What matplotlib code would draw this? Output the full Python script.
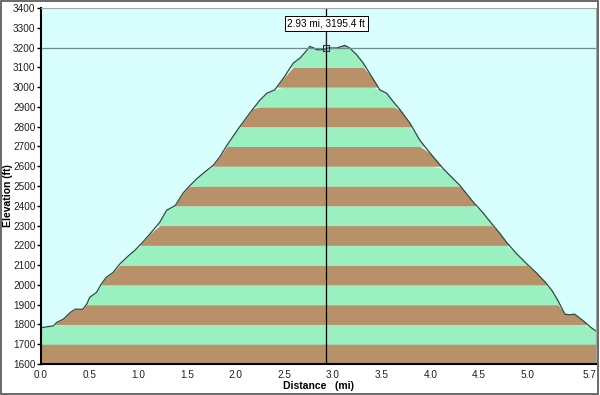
import numpy as np
import matplotlib
matplotlib.use("Agg")
import matplotlib.pyplot as plt
from matplotlib.patches import Rectangle

# Elevation profile
dist_mi = [0.0, 0.01, 0.06, 0.13, 0.16, 0.23, 0.30, 0.35, 0.43, 0.47, 0.50, 0.57,
           0.62, 0.67, 0.74, 0.81, 0.90, 0.96, 1.03, 1.12, 1.22, 1.29, 1.38, 1.46,
           1.52, 1.60, 1.68, 1.77, 1.84, 1.91, 2.04, 2.18, 2.25, 2.32, 2.40, 2.49,
           2.59, 2.66, 2.72, 2.76, 2.80, 2.83, 2.90, 2.95, 3.04, 3.12, 3.17, 3.24,
           3.31, 3.40, 3.48, 3.55, 3.62, 3.69, 3.79, 3.89, 4.00, 4.13, 4.30, 4.44,
           4.53, 4.63, 4.71, 4.78, 4.88, 4.99, 5.09, 5.18, 5.25, 5.31, 5.38, 5.43,
           5.48, 5.57, 5.65, 5.70]
elev_ft = [1795, 1784, 1788, 1793, 1810, 1827, 1860, 1877, 1877, 1903, 1937, 1962,
           2005, 2038, 2063, 2106, 2148, 2173, 2208, 2258, 2317, 2377, 2402, 2465,
           2497, 2537, 2570, 2605, 2650, 2706, 2799, 2892, 2935, 2969, 2986, 3045,
           3121, 3147, 3180, 3206, 3198, 3189, 3189, 3198, 3198, 3211, 3198, 3165,
           3121, 3050, 2986, 2969, 2925, 2884, 2817, 2732, 2664, 2588, 2504, 2418,
           2370, 2309, 2262, 2216, 2160, 2106, 2060, 2013, 1970, 1920, 1852, 1849,
           1852, 1818, 1784, 1767]

cursor_mi = 2.93
cursor_ft = 3195.4
cursor_label = "2.93 mi, 3195.4 ft"

yticks = list(range(1600, 3401, 100))
xticks = [0.0, 0.5, 1.0, 1.5, 2.0, 2.5, 3.0, 3.5, 4.0, 4.5, 5.0, 5.5, 5.7]
xtick_labels = ["0.0", "0.5", "1.0", "1.5", "2.0", "2.5", "3.0", "3.5", "4.0",
                "4.5", "5.0", "", "5.7"]

plt.rcParams['font.family'] = ['Liberation Sans', 'DejaVu Sans']

fig = plt.figure(figsize=(6, 3.95), dpi=100)
fig.patch.set_facecolor('white')
ax = fig.add_axes([41 / 600, 31 / 395, 555 / 600, 356 / 395])
ax.set_facecolor('#D8FEFE')

x = np.array(dist_mi)
y = np.array(elev_ft)

# alternating brown / green bands below the profile
for lo in range(1600, 3400, 100):
    col = '#B89168' if ((lo - 1600) // 100) % 2 == 0 else '#9AF0C0'
    hi = lo + 100 if lo < 3200 else 3400
    ax.fill_between(x, lo, np.minimum(y, hi), where=y > lo, interpolate=True,
                    color=col, linewidth=0)
ax.plot(x, y, color='#2E4A40', linewidth=0.9)

# cursor lines + marker + label
ax.axhline(cursor_ft, color='#6E8E8E', linewidth=0.9)
ax.axvline(cursor_mi, color='black', linewidth=0.9)
ax.plot([cursor_mi], [cursor_ft], marker='s', markersize=4.5, markerfacecolor='none',
        markeredgecolor='#2020B0', markeredgewidth=0.8)
ax.annotate(cursor_label, xy=(cursor_mi, cursor_ft), xytext=(2.93, 3320),
            ha='center', va='center', fontsize=7.2,
            bbox=dict(boxstyle='square,pad=0.25', fc='white', ec='black', lw=0.7),
            arrowprops=dict(arrowstyle='-', linestyle=(0, (1, 1)), color='#303030',
                            lw=0.7, shrinkA=0, shrinkB=2))

ax.set_xlim(0, 5.7)
ax.set_ylim(1600, 3400)
ax.set_yticks(yticks)
ax.set_yticklabels([str(t) for t in yticks], fontsize=7.2, color='#202020')
ax.set_xticks(xticks)
ax.set_xticklabels(xtick_labels, fontsize=7.2, color='#202020')
ax.get_xticklabels()[-1].set_horizontalalignment('right')
ax.tick_params(axis='y', length=3, width=1, pad=1)
ax.tick_params(axis='x', length=0, pad=4)

for side in ['left', 'bottom']:
    ax.spines[side].set_color('black')
    ax.spines[side].set_linewidth(1.5)
for side in ['right', 'top']:
    ax.spines[side].set_color('#A0A8A8')
    ax.spines[side].set_linewidth(0.8)

ax.set_ylabel("Elevation (ft)", fontsize=7.5, fontweight='bold')
ax.yaxis.set_label_coords(-0.051, 0.473)
ax.set_xlabel("Distance   (mi)", fontsize=7.5, fontweight='bold', labelpad=1)

# outer frame
fig.patches.append(Rectangle((0.002, 0.003), 0.995, 0.994, transform=fig.transFigure,
                             fill=False, edgecolor='#505050', linewidth=1.2))

fig.savefig("out.png", dpi=100)
